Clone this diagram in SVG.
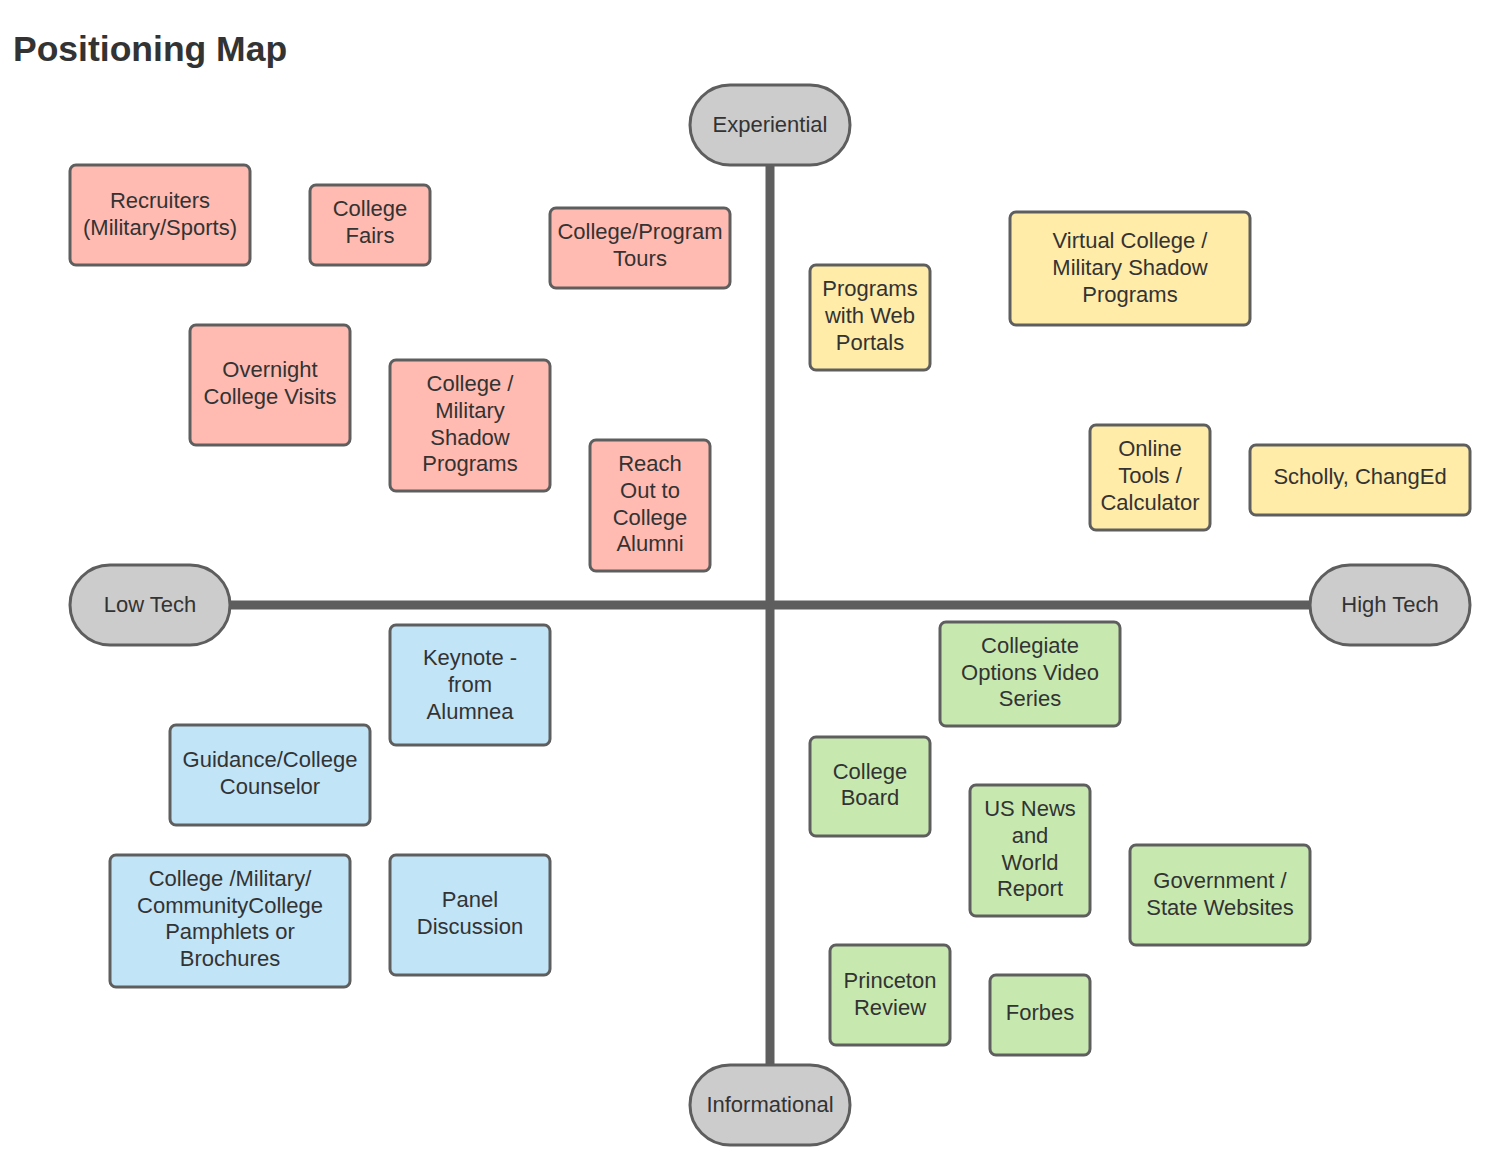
<svg xmlns="http://www.w3.org/2000/svg" width="1508" height="1171" viewBox="0 0 1508 1171">
<style>
text{font-family:"Liberation Sans",Arial,sans-serif;font-size:22px;fill:#333333;text-anchor:middle}
.title{font-size:35.5px;font-weight:bold;text-anchor:start}
.box{stroke:#5e5e5e;stroke-width:3}
.pink{fill:#ffbbb1}
.yellow{fill:#ffeca9}
.blue{fill:#c1e4f7}
.green{fill:#c7e9b0}
.pill{fill:#cccccc;stroke:#5e5e5e;stroke-width:3}
.axis{stroke:#5e5e5e;stroke-width:9;fill:none}
</style>
<rect width="1508" height="1171" fill="#ffffff"/>
<text class="title" x="13" y="61">Positioning Map</text>
<g id="connectors">
<line class="axis" x1="770" y1="165" x2="770" y2="1065"/>
<line class="axis" x1="230" y1="605" x2="1310" y2="605"/>
</g>
<g id="experiential"><rect class="pill" x="690" y="85" width="160" height="80" rx="40"/><text x="770" y="132">Experiential</text></g>
<g id="lowtech"><rect class="pill" x="70" y="565" width="160" height="80" rx="40"/><text x="150" y="612">Low Tech</text></g>
<g id="hightech"><rect class="pill" x="1310" y="565" width="160" height="80" rx="40"/><text x="1390" y="612">High Tech</text></g>
<g id="informational"><rect class="pill" x="690" y="1065" width="160" height="80" rx="40"/><text x="770" y="1112">Informational</text></g>

<g id="recruiters"><rect class="box pink" x="70" y="165" width="180" height="100" rx="6"/><text x="160" y="208">Recruiters</text><text x="160" y="235">(Military/Sports)</text></g>
<g id="collegefairs"><rect class="box pink" x="310" y="185" width="120" height="80" rx="6"/><text x="370" y="216">College</text><text x="370" y="243">Fairs</text></g>
<g id="tours"><rect class="box pink" x="550" y="208" width="180" height="80" rx="6"/><text x="640" y="239">College/Program</text><text x="640" y="266">Tours</text></g>
<g id="overnight"><rect class="box pink" x="190" y="325" width="160" height="120" rx="6"/><text x="270" y="377">Overnight</text><text x="270" y="404">College Visits</text></g>
<g id="shadow"><rect class="box pink" x="390" y="360" width="160" height="131" rx="6"/><text x="470" y="391">College /</text><text x="470" y="418">Military</text><text x="470" y="445">Shadow</text><text x="470" y="471">Programs</text></g>
<g id="reachout"><rect class="box pink" x="590" y="440" width="120" height="131" rx="6"/><text x="650" y="471">Reach</text><text x="650" y="498">Out to</text><text x="650" y="525">College</text><text x="650" y="551">Alumni</text></g>

<g id="webportals"><rect class="box yellow" x="810" y="265" width="120" height="105" rx="6"/><text x="870" y="296">Programs</text><text x="870" y="323">with Web</text><text x="870" y="350">Portals</text></g>
<g id="virtual"><rect class="box yellow" x="1010" y="212" width="240" height="113" rx="6"/><text x="1130" y="248">Virtual College /</text><text x="1130" y="275">Military Shadow</text><text x="1130" y="302">Programs</text></g>
<g id="onlinetools"><rect class="box yellow" x="1090" y="425" width="120" height="105" rx="6"/><text x="1150" y="456">Online</text><text x="1150" y="483">Tools /</text><text x="1150" y="510">Calculator</text></g>
<g id="scholly"><rect class="box yellow" x="1250" y="445" width="220" height="70" rx="6"/><text x="1360" y="484">Scholly, ChangEd</text></g>

<g id="keynote"><rect class="box blue" x="390" y="625" width="160" height="120" rx="6"/><text x="470" y="665">Keynote -</text><text x="470" y="692">from</text><text x="470" y="719">Alumnea</text></g>
<g id="guidance"><rect class="box blue" x="170" y="725" width="200" height="100" rx="6"/><text x="270" y="767">Guidance/College</text><text x="270" y="794">Counselor</text></g>
<g id="pamphlets"><rect class="box blue" x="110" y="855" width="240" height="132" rx="6"/><text x="230" y="886">College /Military/</text><text x="230" y="913">CommunityCollege</text><text x="230" y="939">Pamphlets or</text><text x="230" y="966">Brochures</text></g>
<g id="panel"><rect class="box blue" x="390" y="855" width="160" height="120" rx="6"/><text x="470" y="907">Panel</text><text x="470" y="934">Discussion</text></g>

<g id="collegiate"><rect class="box green" x="940" y="622" width="180" height="104" rx="6"/><text x="1030" y="653">Collegiate</text><text x="1030" y="680">Options Video</text><text x="1030" y="706">Series</text></g>
<g id="collegeboard"><rect class="box green" x="810" y="737" width="120" height="99" rx="6"/><text x="870" y="779">College</text><text x="870" y="805">Board</text></g>
<g id="usnews"><rect class="box green" x="970" y="785" width="120" height="131" rx="6"/><text x="1030" y="816">US News</text><text x="1030" y="843">and</text><text x="1030" y="870">World</text><text x="1030" y="896">Report</text></g>
<g id="government"><rect class="box green" x="1130" y="845" width="180" height="100" rx="6"/><text x="1220" y="888">Government /</text><text x="1220" y="915">State Websites</text></g>
<g id="princeton"><rect class="box green" x="830" y="945" width="120" height="100" rx="6"/><text x="890" y="988">Princeton</text><text x="890" y="1015">Review</text></g>
<g id="forbes"><rect class="box green" x="990" y="975" width="100" height="80" rx="6"/><text x="1040" y="1020">Forbes</text></g>
</svg>
